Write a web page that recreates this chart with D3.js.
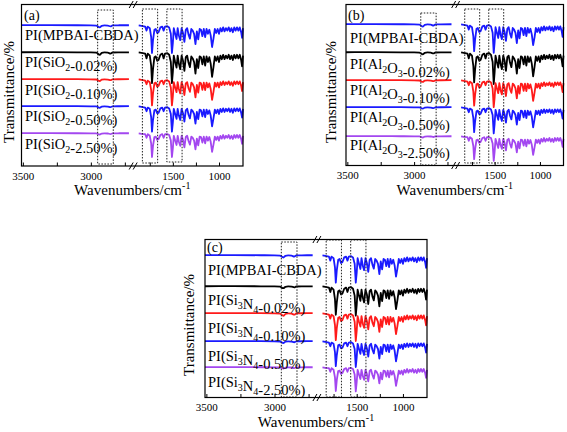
<!DOCTYPE html>
<html><head><meta charset="utf-8">
<script src="https://cdn.jsdelivr.net/npm/d3@7"></script>
<style>html,body{margin:0;padding:0;background:#fff;} svg{display:block;}</style>
</head><body>
<svg id="chart" width="567" height="432"></svg>
<script>
// ---------- DATA ----------
const wnLeft = [3510, 3300, 3100, 3000, 2960, 2935, 2920, 2900, 2875, 2855, 2840, 2800, 2720];
const wnRight = [1870,1840,1800,1785,1772,1750,1735,1726,1715,1700,1685,1670,1655,1635,1615,1600,1585,1560,1540,1522,
  1510,1500,1490,1475,1460,1448,1435,1420,1405,1390,1375,1360,1345,1330,1315,1300,1285,1270,1255,1240,
  1225,1210,1195,1180,1165,1150,1135,1120,1105,1090,1075,1060,1045,1030,1015,1000,985,970,955,940,
  925,910,895,880,865,850,835,820,805,790,775,760,750,740];

const tickValuesLeft = [3500, 3250, 3000, 2750];
const tickValuesRight = [1750, 1500, 1250, 1000];
const tickLabels = [3500, 3000, 1500, 1000];
const boxRanges = [[2950, 2835], [1830, 1665], [1565, 1400]];

const labelsA = ["PI(MPBAI-CBDA)", "PI(SiO_2-0.02%)", "PI(SiO_2-0.10%)", "PI(SiO_2-0.50%)", "PI(SiO_2-2.50%)"];
const labelsB = ["PI(MPBAI-CBDA)", "PI(Al_2O_3-0.02%)", "PI(Al_2O_3-0.10%)", "PI(Al_2O_3-0.50%)", "PI(Al_2O_3-2.50%)"];
const labelsC = ["PI(MPBAI-CBDA)", "PI(Si_3N_4-0.02%)", "PI(Si_3N_4-0.10%)", "PI(Si_3N_4-0.50%)", "PI(Si_3N_4-2.50%)"];

// transmittance (%) – C-H region
const aLeft = [
  [97.5,97.6,97.4,97.2,96.6,92,96,97,96.4,94.5,96.9,97.3,97.4],
  [97.4,97.5,97.3,97.1,96.4,91,95.6,96.9,96.2,94,96.8,97.2,97.3],
  [97.5,97.6,97.5,97.3,96.8,93,96.3,97.1,96.6,95,97,97.4,97.5],
  [97.6,97.6,97.5,97.3,96.9,93.5,96.5,97.2,96.7,95.2,97.1,97.4,97.5],
  [97.5,97.6,97.4,97.3,96.9,94,96.6,97.2,96.8,95.4,97.1,97.3,97.4]
];
const bLeft = [
  [97.5,97.6,97.4,97.2,96.5,91.5,95.8,97,96.3,94.2,96.9,97.3,97.4],
  [97.4,97.5,97.3,97.1,96.4,92,95.9,96.9,96.3,94.4,96.8,97.2,97.3],
  [97.5,97.6,97.5,97.3,96.8,93.2,96.3,97.1,96.6,95,97,97.4,97.5],
  [97.6,97.6,97.5,97.3,96.9,93.8,96.5,97.2,96.7,95.2,97.1,97.4,97.5],
  [97.5,97.6,97.4,97.3,96.9,94.2,96.6,97.2,96.8,95.5,97.1,97.3,97.4]
];
const cLeft = [
  [97.5,97.6,97.4,97.2,96.5,91.8,95.8,97,96.4,94.3,96.9,97.3,97.4],
  [97.4,97.5,97.3,97.1,96.5,92.5,96,96.9,96.4,94.7,96.8,97.2,97.3],
  [97.5,97.6,97.5,97.3,96.6,91,95.5,97.1,96.2,93.8,97,97.4,97.5],
  [97.6,97.6,97.5,97.3,96.8,93,96.3,97.2,96.6,94.9,97.1,97.4,97.5],
  [97.5,97.6,97.4,97.3,96.9,93.8,96.5,97.2,96.8,95.3,97.1,97.3,97.4]
];

// transmittance (%) – fingerprint region
const aRight = [
  [97,96,94,84,94,90,68,28,60,86, 88,78,80,92,94,84,94,95,92,76, 28,53,90,76,63,90,72,60,90,78, 56,86,90,74,64,88,84,76,50,82, 62,88,86,70,88,68,88,76,86,72, 43,64,88,78,88,76,90,82,92,82, 90,84,92,82,90,80,92,84,92,84, 92,80,66,90],
  [97,96,94,82,94,89,64,20,55,85, 87,76,78,91,94,82,94,95,91,73, 20,48,89,73,59,89,69,55,89,76, 51,85,89,71,60,87,82,73,44,80, 58,87,85,67,87,64,87,73,85,69, 36,60,87,76,87,73,89,80,91,80, 89,82,91,80,89,78,91,82,91,82, 91,78,62,89],
  [97,96,94,85,94,90,70,32,62,87, 89,79,81,92,94,85,94,95,92,77, 32,55,90,77,65,90,73,62,90,79, 58,87,90,75,66,89,85,77,52,83, 64,89,87,71,89,70,89,77,87,73, 46,66,89,79,89,77,90,83,92,83, 90,85,92,83,90,81,92,85,92,85, 92,81,68,90],
  [97,96,94,85,94,91,70,34,63,87, 89,80,81,92,94,85,94,95,92,78, 34,57,91,78,66,91,74,63,91,80, 59,87,91,76,67,89,85,78,54,83, 65,89,87,72,89,70,89,78,87,74, 47,67,89,80,89,78,91,83,92,83, 91,85,92,83,91,81,92,85,92,85, 92,81,69,91],
  [97,96,95,86,95,91,72,38,66,88, 89,81,83,93,95,86,95,95,93,79, 38,60,91,79,68,91,76,66,91,81, 62,88,91,78,69,89,86,79,57,84, 67,89,88,74,89,72,89,79,88,76, 51,69,89,81,89,79,91,84,93,84, 91,86,93,84,91,83,93,86,93,86, 93,83,71,91]
];
const bRight = [
  [97,96,94,84,94,90,67,30,60,86, 88,78,80,92,94,84,94,95,92,76, 26,52,90,76,63,90,72,60,90,78, 56,86,90,74,64,88,84,76,50,82, 62,88,86,70,88,68,88,76,86,72, 45,64,88,78,88,76,90,82,92,82, 90,84,92,82,90,80,92,84,92,84, 92,80,66,90],
  [97,96,94,82,94,89,63,22,55,85, 87,76,78,91,94,82,94,95,91,73, 18,47,89,73,59,89,69,55,89,76, 51,85,89,71,60,87,82,73,44,80, 58,87,85,67,87,64,87,73,85,69, 37,60,87,76,87,73,89,80,91,80, 89,82,91,80,89,78,91,82,91,82, 91,78,62,89],
  [97,96,94,85,94,90,69,34,62,87, 89,79,81,92,94,85,94,95,92,77, 30,54,90,77,65,90,73,62,90,79, 58,87,90,75,66,89,85,77,52,83, 64,89,87,71,89,70,89,77,87,73, 46,66,89,79,89,77,90,83,92,83, 90,85,92,83,90,81,92,85,92,85, 92,81,68,90],
  [97,96,94,85,94,91,70,35,63,87, 89,80,81,92,94,85,94,95,92,78, 32,56,91,78,66,91,74,63,91,80, 59,87,91,76,67,89,85,78,54,83, 65,89,87,72,89,70,89,78,87,74, 47,67,89,80,89,78,91,83,92,83, 91,85,92,83,91,81,92,85,92,85, 92,81,69,91],
  [97,96,95,86,95,91,73,40,66,88, 89,81,83,93,95,86,95,95,93,79, 36,59,91,79,68,91,76,66,91,81, 62,88,91,78,69,89,86,79,57,84, 67,89,88,74,89,72,89,79,88,76, 51,69,89,81,89,79,91,84,93,84, 91,86,93,84,91,83,93,86,93,86, 93,83,71,91]
];
const cRight = [
  [97,96,94,84,94,90,67,29,60,86, 88,78,80,92,94,84,94,95,92,76, 29,53,90,76,63,90,72,60,90,78, 56,86,90,74,64,88,84,76,50,82, 62,88,86,70,88,68,88,76,86,72, 44,64,88,78,88,76,90,82,92,82, 90,84,92,82,90,80,92,84,92,84, 92,80,66,90],
  [97,96,94,83,94,89,65,26,57,85, 87,77,79,91,94,83,94,95,91,74, 24,50,89,74,61,89,70,57,89,77, 53,85,89,72,62,87,83,74,47,81, 60,87,85,68,87,66,87,74,85,70, 40,62,87,77,87,74,89,81,91,81, 89,83,91,81,89,79,91,83,91,83, 91,79,64,89],
  [97,96,94,84,94,90,68,30,61,86, 88,78,80,92,94,84,94,95,92,76, 28,53,90,76,64,90,72,61,90,78, 57,86,90,74,65,88,84,76,51,82, 63,88,86,70,88,69,88,76,86,72, 45,65,88,78,88,76,90,82,92,82, 90,84,92,82,90,80,92,84,92,84, 92,80,67,90],
  [97,96,94,85,94,91,70,35,63,87, 89,80,81,92,94,85,94,95,92,78, 33,57,91,78,66,91,74,63,91,80, 59,87,91,76,67,89,85,78,54,83, 65,89,87,72,89,70,89,78,87,74, 47,67,89,80,89,78,91,83,92,83, 91,85,92,83,91,81,92,85,92,85, 92,81,69,91],
  [97,96,95,86,95,91,72,38,66,88, 89,81,83,93,95,86,95,95,93,79, 37,60,91,79,68,91,76,66,91,81, 62,88,91,78,69,89,86,79,57,84, 67,89,88,74,89,72,89,79,88,76, 51,69,89,81,89,79,91,84,93,84, 91,86,93,84,91,83,93,86,93,86, 93,83,71,91]
];

// ---------- LAYOUT / STYLE ----------
const svg = d3.select('#chart');
const FONT = "'Liberation Serif','Times New Roman',Times,serif";
const colors = ['#1a1aff', '#000000', '#ff1a1a', '#1a1aff', '#a347f0'];

const panels = [
  {L:21.5, T:4.5, R:243, B:166, bases:[25,52,79,106,133], lblX:25, lblY:[40,67,95,121,149], tag:'(a)', tagX:24, tagY:20,
   yLblX:14, yLblY:92, xLblY:195, boxTop:[10,9,9], boxBot:[164,163,162], labels:labelsA, left:aLeft, right:aRight},
  {L:346, T:4.5, R:563.5, B:165.5, bases:[24,52,80,107,136], lblX:350, lblY:[43,69,95,122,150], tag:'(b)', tagX:348, tagY:20,
   yLblX:336, yLblY:92, xLblY:195, boxTop:[13,9,9], boxBot:[165,163,163], labels:labelsB, left:bLeft, right:bRight},
  {L:205, T:239.5, R:427, B:397.5, bases:[255,286,313,341,367], lblX:208, lblY:[275,305,333,361,387], tag:'(c)', tagX:207, tagY:252,
   yLblX:194, yLblY:325, xLblY:427, boxTop:[242,240,240], boxBot:[397,397,397], labels:labelsC, left:cLeft, right:cRight}
];

function addLabel(sel, str) {
  const parts = str.split(/_(\d)/);
  parts.forEach((t, i) => {
    if (!t) return;
    if (i % 2 === 1) {
      sel.append('tspan').attr('font-size', 10).attr('dy', 4).text(t);
      sel.append('tspan').attr('dy', -4).text('');
    } else {
      sel.append('tspan').text(t);
    }
  });
}

panels.forEach(p => {
  const g = svg.append('g');
  const W = p.R - p.L;
  const xL = d3.scaleLinear().domain([3510, 2720]).range([p.L, p.L + 0.485 * W]);
  const xR = d3.scaleLinear().domain([1880, 740]).range([p.L + 0.525 * W, p.R]);

  for (let k = 0; k < 5; k++) {
    const y = d3.scaleLinear().domain([98, 0]).range([p.bases[k], p.bases[k] + 39.2]);
    const lineL = d3.line().x((d, i) => xL(wnLeft[i])).y(d => y(d)).curve(d3.curveMonotoneX);
    const lineR = d3.line().x((d, i) => xR(wnRight[i])).y(d => y(d));
    g.append('path').attr('d', lineL(p.left[k])).attr('fill', 'none')
      .attr('stroke', colors[k]).attr('stroke-width', 1.8).attr('stroke-linejoin', 'round');
    g.append('path').attr('d', lineR(p.right[k])).attr('fill', 'none')
      .attr('stroke', colors[k]).attr('stroke-width', 1.8).attr('stroke-linejoin', 'round');
  }

  boxRanges.forEach((r, i) => {
    const sc = i === 0 ? xL : xR;
    g.append('rect').attr('x', sc(r[0])).attr('y', p.boxTop[i])
      .attr('width', sc(r[1]) - sc(r[0])).attr('height', p.boxBot[i] - p.boxTop[i])
      .attr('fill', 'none').attr('stroke', '#222').attr('stroke-width', 1).attr('stroke-dasharray', '1.5,1.5');
  });

  g.append('rect').attr('x', p.L).attr('y', p.T).attr('width', W).attr('height', p.B - p.T)
    .attr('fill', 'none').attr('stroke', '#000').attr('stroke-width', 1.2);

  const fmt = d => tickLabels.includes(d) ? String(d) : '';
  const axL = d3.axisBottom(xL).tickValues(tickValuesLeft).tickSize(-3.5).tickPadding(6).tickFormat(fmt);
  const axR = d3.axisBottom(xR).tickValues(tickValuesRight).tickSize(-3.5).tickPadding(6).tickFormat(fmt);
  [axL, axR].forEach(ax => {
    const a = g.append('g').attr('transform', `translate(0,${p.B})`).call(ax);
    a.select('.domain').remove();
    a.selectAll('line').attr('stroke', '#000').attr('stroke-width', 1);
    a.selectAll('text').attr('font-family', FONT).attr('font-size', 11).attr('fill', '#000');
  });

  const bx = p.L + 0.505 * W;
  [p.T, p.B].forEach(yy => {
    [-2.2, 1.8].forEach(dx => {
      g.append('line').attr('x1', bx + dx - 2).attr('y1', yy + 3.5).attr('x2', bx + dx + 2).attr('y2', yy - 3.5)
        .attr('stroke', '#000').attr('stroke-width', 1);
    });
  });

  p.labels.forEach((lab, k) => {
    const t = g.append('text').attr('x', p.lblX).attr('y', p.lblY[k])
      .attr('font-family', FONT).attr('font-size', 14.5).attr('fill', '#000');
    addLabel(t, lab);
  });

  g.append('text').attr('x', p.tagX).attr('y', p.tagY).attr('font-family', FONT).attr('font-size', 14).text(p.tag);

  g.append('text').attr('transform', `translate(${p.yLblX},${p.yLblY}) rotate(-90)`)
    .attr('text-anchor', 'middle').attr('font-family', FONT).attr('font-size', 15).text('Transmittance/%');

  const xl = g.append('text').attr('x', (p.L + p.R) / 2).attr('y', p.xLblY).attr('text-anchor', 'middle')
    .attr('font-family', FONT).attr('font-size', 15);
  xl.append('tspan').text('Wavenumbers/cm');
  xl.append('tspan').attr('font-size', 10).attr('dy', -6).text('-1');
});
</script>
</body></html>
